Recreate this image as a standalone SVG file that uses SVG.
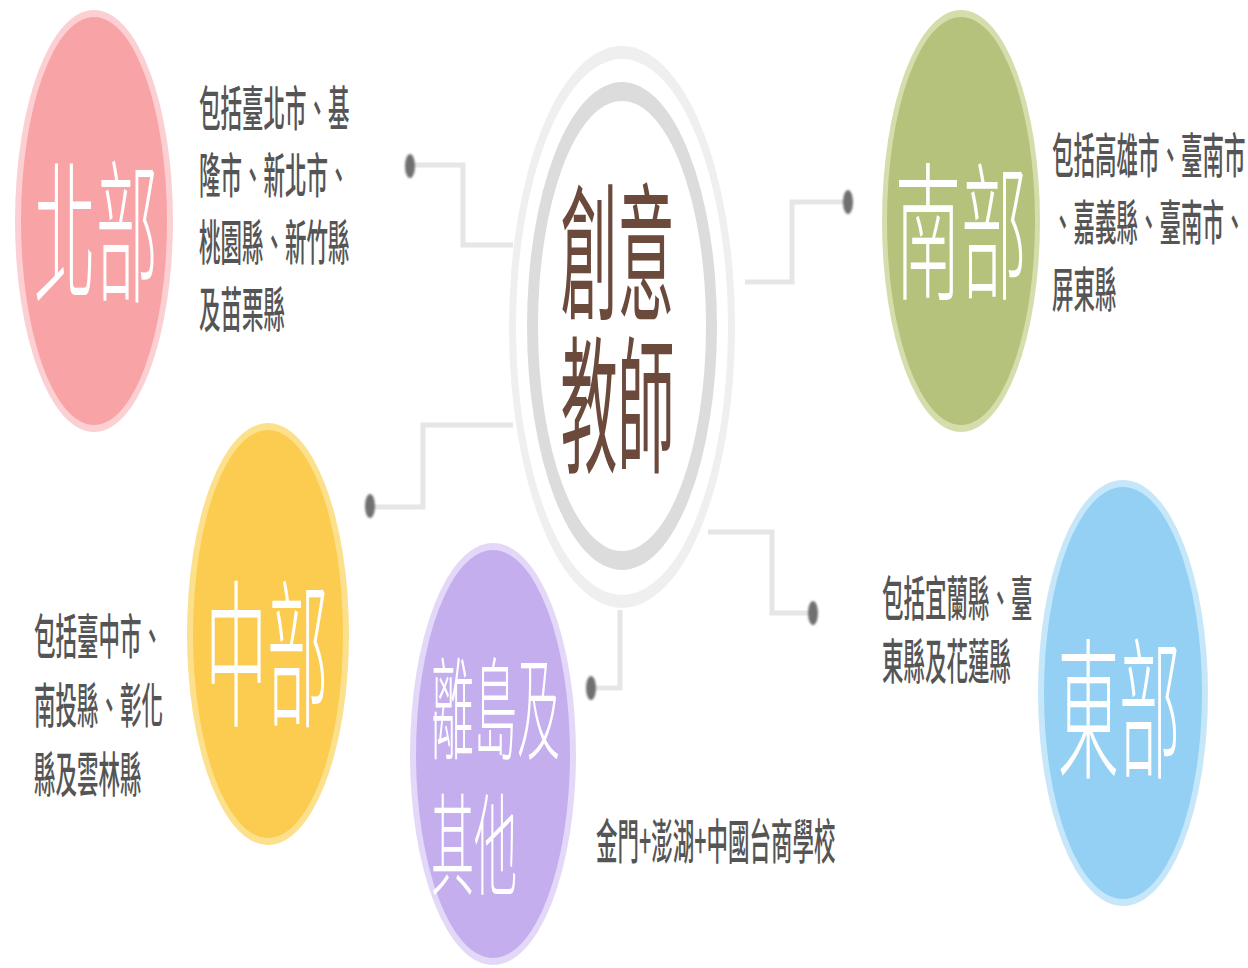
<svg xmlns="http://www.w3.org/2000/svg" width="1248" height="968" viewBox="0 0 1248 968">
<defs>
<style>
text{font-family:"Noto Sans CJK TC","Noto Sans CJK SC",sans-serif;dominant-baseline:central}
.lbl{fill:#ffffff;font-weight:300}
.desc{fill:#555555;font-size:21.5px;font-weight:500}
.ctr{fill:#6b4a3c;font-size:57px;font-weight:400}
.conn{fill:none;stroke:#e6e6e6;stroke-width:5}
.dot{fill:#707070}
</style>
<filter id="soft" x="-50%" y="-50%" width="200%" height="200%"><feGaussianBlur stdDeviation="0.8"/></filter>
</defs>
<rect width="1248" height="968" fill="#ffffff"/>

<g id="center">
<ellipse cx="622" cy="327" rx="113" ry="281" fill="#efefef"/>
<ellipse cx="622" cy="327" rx="106" ry="268" fill="#ffffff"/>
<ellipse cx="622" cy="326" rx="95" ry="244" fill="#dcdcdc"/>
<ellipse cx="622" cy="326" rx="84" ry="225" fill="#ffffff"/>
<text class="ctr" text-anchor="middle" transform="translate(617.5,243.5) scale(1,2.6)"><tspan x="0" y="0">創意</tspan><tspan x="0" dy="58.85">教師</tspan></text>
</g>

<g id="connectors">
<path class="conn" d="M412,165 H463 V245 H513"/>
<path class="conn" d="M846,202 H792 V282 H745"/>
<path class="conn" d="M372,507 H423 V425 H513"/>
<path class="conn" d="M593,688 H620 V610"/>
<path class="conn" d="M708,532 H772 V613 H811"/>
<g filter="url(#soft)">
<ellipse class="dot" cx="410" cy="166" rx="5" ry="12"/>
<ellipse class="dot" cx="848" cy="202" rx="5" ry="12"/>
<ellipse class="dot" cx="370" cy="506" rx="5" ry="12"/>
<ellipse class="dot" cx="591" cy="688" rx="5" ry="12"/>
<ellipse class="dot" cx="813" cy="613" rx="5" ry="12"/>
</g>
</g>

<g id="north">
<ellipse cx="94" cy="221" rx="79" ry="211" fill="#fcd0d2"/>
<ellipse cx="94" cy="221" rx="73" ry="204" fill="#f8a3a6"/>
<text class="lbl" text-anchor="middle" font-size="62" transform="translate(96,222) scale(1,2.5)">北部</text>
<text class="desc" transform="translate(199,105) scale(1,2.2)"><tspan x="0" y="0">包括臺北市、基</tspan><tspan x="0" dy="30.5">隆市、新北市、</tspan><tspan x="0" dy="30.5">桃園縣、新竹縣</tspan><tspan x="0" dy="30.5">及苗栗縣</tspan></text>
</g>

<g id="middle">
<ellipse cx="268" cy="634" rx="81" ry="211" fill="#fde08c"/>
<ellipse cx="268" cy="634" rx="75" ry="204" fill="#fbcc50"/>
<text class="lbl" text-anchor="middle" font-size="61.5" transform="translate(267,645) scale(1,2.6)">中部</text>
<text class="desc" transform="translate(34,633) scale(1,2.2)"><tspan x="0" y="0">包括臺中市、</tspan><tspan x="0" dy="31.4">南投縣、彰化</tspan><tspan x="0" dy="31.4">縣及雲林縣</tspan></text>
</g>

<g id="islands">
<ellipse cx="493" cy="754" rx="83" ry="211" fill="#e4d8f8"/>
<ellipse cx="493" cy="754" rx="77" ry="204" fill="#c5aeee"/>
<text class="lbl" font-size="43" transform="translate(431,702) scale(1,2.6)"><tspan x="0" y="0">離島及</tspan><tspan x="0" dy="52.3">其他</tspan></text>
<text class="desc" transform="translate(596,838) scale(1,2.2)">金門+澎湖+中國台商學校</text>
</g>

<g id="south">
<ellipse cx="961" cy="221" rx="79" ry="211" fill="#d6ddac"/>
<ellipse cx="961" cy="221" rx="74" ry="204" fill="#b5c27b"/>
<text class="lbl" text-anchor="middle" font-size="66" transform="translate(961,223) scale(1,2.25)">南部</text>
<text class="desc" transform="translate(1052,152) scale(1,2.2)"><tspan x="0" y="0">包括高雄市、臺南市</tspan><tspan x="0" dy="30.5">、嘉義縣、臺南市、</tspan><tspan x="0" dy="30.5">屏東縣</tspan></text>
</g>

<g id="east">
<ellipse cx="1123" cy="693" rx="85" ry="213" fill="#c6e7fa"/>
<ellipse cx="1123" cy="693" rx="79" ry="206" fill="#93d0f3"/>
<text class="lbl" text-anchor="middle" font-size="61.5" transform="translate(1119,700) scale(1,2.5)">東部</text>
<text class="desc" transform="translate(882,595) scale(1,2.2)"><tspan x="0" y="0">包括宜蘭縣、臺</tspan><tspan x="0" dy="28.6">東縣及花蓮縣</tspan></text>
</g>
</svg>
